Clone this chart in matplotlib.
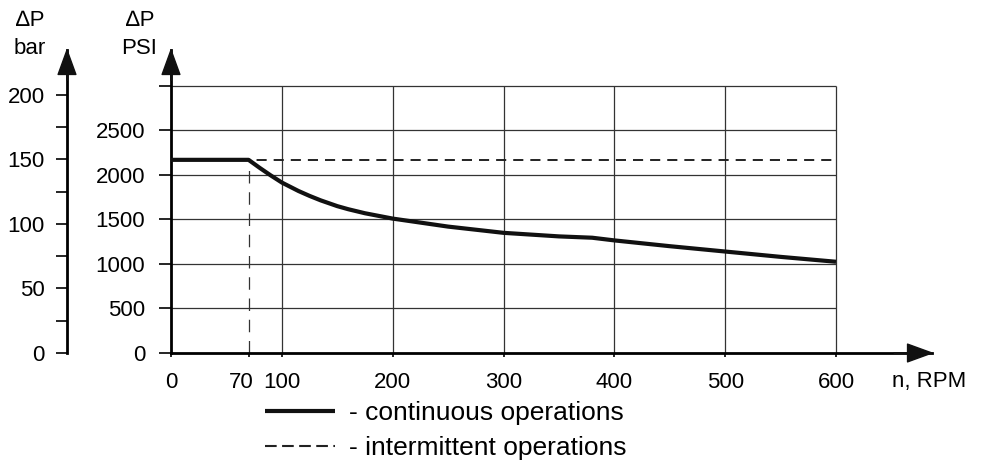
import matplotlib.pyplot as plt
from matplotlib.ticker import FixedLocator
from matplotlib.lines import Line2D
from matplotlib.transforms import ScaledTranslation

plt.rcParams['font.family'] = ['Liberation Sans', 'DejaVu Sans']

# data
rpm = [0, 70, 80, 90, 100, 115, 125, 135, 150, 160, 175, 200, 250, 300, 350, 380,
       400, 450, 500, 550, 600]
psi_continuous = [2170, 2170, 2080, 1995, 1915, 1820, 1765, 1715, 1650, 1615, 1570,
                  1510, 1420, 1350, 1310, 1295, 1265, 1200, 1140, 1080, 1025]
rpm_intermittent = [0, 600]
psi_intermittent = [2170, 2170]
corner_rpm = 70
x_ticks = [0, 70, 100, 200, 300, 400, 500, 600]
psi_ticks = [0, 500, 1000, 1500, 2000, 2500, 3000]
bar_ticks = [0, 50, 100, 150, 200]
bar_minor = [25, 75, 125, 175]
PSI_PER_BAR = 14.5038

FS = 16
W, H = 982, 461
fig = plt.figure(figsize=(W / 100, H / 100), dpi=100)

xmax = 686.6
ymax = 3404

ax = fig.add_axes([171 / W, 108 / H, 761 / W, 303 / H])
ax.set_xlim(0, xmax)
ax.set_ylim(0, ymax)
for s in ['top', 'right']:
    ax.spines[s].set_visible(False)
for s in ['left', 'bottom']:
    ax.spines[s].set_linewidth(2)

# grid only inside 0..600 / 0..3000
grid_kw = dict(color='#333333', lw=0.9, zorder=1)
ax.hlines(psi_ticks[1:], 0, x_ticks[-1], **grid_kw)
ax.vlines(x_ticks[2:], 0, psi_ticks[-1], **grid_kw)

ax.plot(rpm_intermittent, psi_intermittent, color='#222222', lw=1.4,
        linestyle=(0, (5.2, 3.6)), zorder=2)
ax.vlines(corner_rpm, 0, psi_intermittent[0], color='#333333', lw=0.9,
          linestyle=(0, (10, 7)), zorder=2)
ax.plot(rpm, psi_continuous, color='#111111', lw=3, solid_capstyle='butt',
        solid_joinstyle='round', zorder=3)

ax.set_xticks(x_ticks)
ax.set_yticks(psi_ticks)
ax.set_yticklabels([str(t) for t in psi_ticks[:-1]] + [''])
ax.tick_params(axis='y', direction='out', length=8.5, width=1.2, pad=10, labelsize=FS)
ax.tick_params(axis='x', direction='out', length=3, width=1.2, pad=11, labelsize=FS)
for lab in ax.get_xticklabels():
    if lab.get_text() == '70':
        lab.set_transform(lab.get_transform() + ScaledTranslation(-5 / 72, 0, fig.dpi_scale_trans))

arrow_style = 'simple,head_length=1.1,head_width=0.8,tail_width=0.01'
arrow_kw = dict(arrowstyle=arrow_style, mutation_scale=16, color='#111111',
                shrinkA=0, shrinkB=0)
ax.annotate('', xy=(1, 0), xycoords='axes fraction', xytext=(0.95, 0),
            arrowprops=arrow_kw, annotation_clip=False)
ax.annotate('', xy=(0, 1), xycoords='axes fraction', xytext=(0, 0.9),
            arrowprops=arrow_kw, annotation_clip=False)

# bar axis
axb = fig.add_axes([67 / W, 108 / H, 0.01, 303 / H])
axb.set_ylim(0, ymax / PSI_PER_BAR)
axb.patch.set_visible(False)
for s in ['top', 'right', 'bottom']:
    axb.spines[s].set_visible(False)
axb.spines['left'].set_linewidth(2)
axb.set_xticks([])
axb.set_yticks(bar_ticks)
axb.yaxis.set_minor_locator(FixedLocator(bar_minor))
axb.tick_params(axis='y', which='both', direction='out', length=8, width=1.2, pad=8,
                labelsize=FS)
axb.annotate('', xy=(0, 1), xycoords='axes fraction', xytext=(0, 0.9),
             arrowprops=arrow_kw, annotation_clip=False)

# axis titles
fig.text(30 / W, 1 - 20 / H, '∆P', ha='center', va='center', fontsize=FS)
fig.text(30 / W, 1 - 48 / H, 'bar', ha='center', va='center', fontsize=FS)
fig.text(140 / W, 1 - 20 / H, '∆P', ha='center', va='center', fontsize=FS)
fig.text(139 / W, 1 - 48 / H, 'PSI', ha='center', va='center', fontsize=FS)
fig.text(892 / W, 1 - 381 / H, 'n, RPM', ha='left', va='center', fontsize=FS)

handles = [Line2D([], [], color='#111111', lw=3, solid_capstyle='butt'),
           Line2D([], [], color='#222222', lw=1.5, linestyle=(0, (5.6, 2.6)))]
fig.legend(handles, ['- continuous operations', '- intermittent operations'],
           loc='upper left', bbox_to_anchor=(265 / W, 1 - 401 / H), frameon=False,
           fontsize=19, handlelength=2.65, handletextpad=0.53, labelspacing=0.42,
           borderaxespad=0, borderpad=0)

fig.savefig('out.png', dpi=100)
